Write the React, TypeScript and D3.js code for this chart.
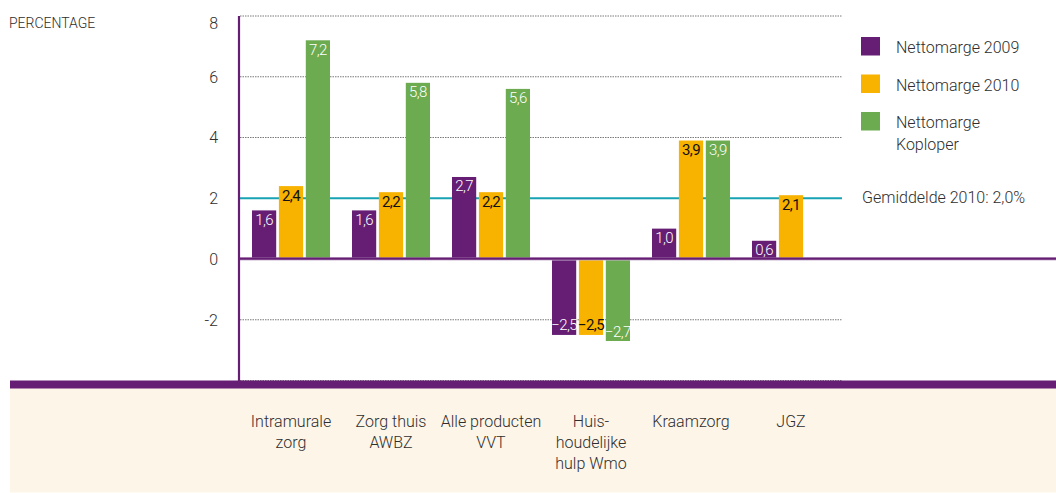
import React from "react";
import * as d3 from "d3";

// Category labels (one entry per line of text)
const categories: string[][] = [
  ["Intramurale", "zorg"],
  ["Zorg thuis", "AWBZ"],
  ["Alle producten", "VVT"],
  ["Huis-", "houdelijke", "hulp Wmo"],
  ["Kraamzorg"],
  ["JGZ"],
];

const seriesNames = ["Nettomarge 2009", "Nettomarge 2010", "Nettomarge Koploper"];
const marge2009: (number | null)[] = [1.6, 1.6, 2.7, -2.5, 1.0, 0.6];
const marge2010: (number | null)[] = [2.4, 2.2, 2.2, -2.5, 3.9, 2.1];
const margeKoploper: (number | null)[] = [7.2, 5.8, 5.6, -2.7, 3.9, null];
const average2010 = 2.0;
const yTicks = [8, 6, 4, 2, 0, -2];
const legendLabels: string[][] = [["Nettomarge 2009"], ["Nettomarge 2010"], ["Nettomarge", "Koploper"]];
const averageLabel = "Gemiddelde 2010: 2,0%";
const yTitle = "PERCENTAGE";

const PURPLE = "#661e74";
const ORANGE = "#f8b200";
const GREEN = "#6cab50";
const TEAL = "#17a3b4";
const BEIGE = "#fef5e9";
const TEXT = "#2e2e2e";
const FONT = "Roboto, 'Open Sans', sans-serif";
const WEIGHT = 300;

const seriesColors = [PURPLE, ORANGE, GREEN];
const labelColors = ["#ffffff", "#111111", "#ffffff"];
const seriesValues = [marge2009, marge2010, margeKoploper];

const W = 1056;
const H = 493;

export default function App() {
  const plotLeft = 239;
  const gridRight = 842;
  const yScale = d3.scaleLinear().domain([-4, 8]).range([380.5, 16]);
  const x0 = d3
    .scaleBand<number>()
    .domain(categories.map((_, i) => i))
    .range([241, 841]);
  const x1 = d3
    .scaleBand<number>()
    .domain(seriesNames.map((_, i) => i))
    .range([0, 78])
    .paddingInner(0.1);
  const groupOffset = (x0.bandwidth() - 78) / 2;
  const fmt = (v: number) => d3.format(".1f")(v).replace(".", ",");
  const bandTop = yScale(-4);

  return (
    <>
      <style>{`body{margin:0}`}</style>
      <svg width={W} height={H} style={{ display: "block", fontFamily: FONT, fontWeight: WEIGHT }}>
        <rect x={0} y={0} width={W} height={H} fill="#ffffff" />

        {/* Category strip */}
        <rect x={10} y={bandTop + 7.5} width={W - 10} height={H - bandTop - 8} fill={BEIGE} />

        {/* Gridlines */}
        {yTicks
          .filter((t) => t !== 0 && t !== 2)
          .concat([-4])
          .map((t) => (
            <line
              key={`g${t}`}
              x1={plotLeft + 1}
              x2={gridRight}
              y1={yScale(t)}
              y2={yScale(t)}
              stroke="#7a7a7a"
              strokeWidth={1}
              strokeDasharray="1.5,1"
            />
          ))}

        {/* Average line */}
        <line
          x1={plotLeft + 1}
          x2={gridRight}
          y1={yScale(average2010)}
          y2={yScale(average2010)}
          stroke={TEAL}
          strokeWidth={2.2}
        />

        {/* Bars */}
        {categories.map((_, ci) => (
          <g key={`c${ci}`} transform={`translate(${(x0(ci) ?? 0) + groupOffset},0)`}>
            {seriesValues.map((vals, si) => {
              const v = vals[ci];
              if (v === null) return null;
              const y0 = yScale(0);
              const yv = yScale(v);
              const top = Math.min(y0, yv);
              const h = Math.abs(yv - y0);
              const bx = x1(si) ?? 0;
              const bw = x1.bandwidth();
              const ly = v >= 0 ? yv + 14.5 : yv - 4.5;
              return (
                <g key={`s${si}`}>
                  <rect x={bx} y={top} width={bw} height={h} fill={seriesColors[si]} />
                  <text
                    x={bx + bw / 2}
                    y={ly}
                    textAnchor="middle"
                    fontSize={15}
                    fontWeight={si === 1 ? 400 : WEIGHT}
                    letterSpacing={-0.6}
                    fill={labelColors[si]}
                  >
                    {fmt(v)}
                  </text>
                </g>
              );
            })}
          </g>
        ))}

        {/* Zero line */}
        <line x1={plotLeft} x2={W} y1={yScale(0)} y2={yScale(0)} stroke="#c9b3cf" strokeWidth={3.2} />
        <line x1={plotLeft} x2={W} y1={yScale(0) - 0.4} y2={yScale(0) - 0.4} stroke={PURPLE} strokeWidth={2.2} />

        {/* Bottom band */}
        <rect x={10} y={bandTop} width={W - 10} height={8} fill={PURPLE} />

        {/* Y axis */}
        <line x1={plotLeft} x2={plotLeft} y1={yScale(8)} y2={bandTop + 2} stroke={PURPLE} strokeWidth={2.2} />

        {/* Y tick labels */}
        {yTicks.map((t) => (
          <text
            key={`t${t}`}
            x={218}
            y={Math.max(yScale(t), yScale(8) + 7)}
            dy="0.36em"
            textAnchor="end"
            fontSize={16}
            fill={TEXT}
          >
            {t}
          </text>
        ))}

        <text x={9} y={28} fontSize={14} fill={TEXT}>
          {yTitle}
        </text>

        {/* Category labels */}
        {categories.map((lines, ci) => (
          <text
            key={`l${ci}`}
            x={(x0(ci) ?? 0) + x0.bandwidth() / 2}
            y={427}
            textAnchor="middle"
            fontSize={16}
            fill={TEXT}
          >
            {lines.map((ln, li) => (
              <tspan key={li} x={(x0(ci) ?? 0) + x0.bandwidth() / 2} dy={li === 0 ? 0 : 21}>
                {ln}
              </tspan>
            ))}
          </text>
        ))}

        {/* Legend */}
        {legendLabels.map((lines, i) => (
          <g key={`lg${i}`} transform={`translate(861,${37 + i * 37.5})`}>
            <rect x={0} y={0} width={19} height={18.5} fill={seriesColors[i]} />
            <text x={35} y={16} fontSize={16} fill={TEXT}>
              {lines.map((ln, li) => (
                <tspan key={li} x={35} dy={li === 0 ? 0 : 22}>
                  {ln}
                </tspan>
              ))}
            </text>
          </g>
        ))}
        <text x={862} y={203} fontSize={16} fill={TEXT}>
          {averageLabel}
        </text>
      </svg>
    </>
  );
}
